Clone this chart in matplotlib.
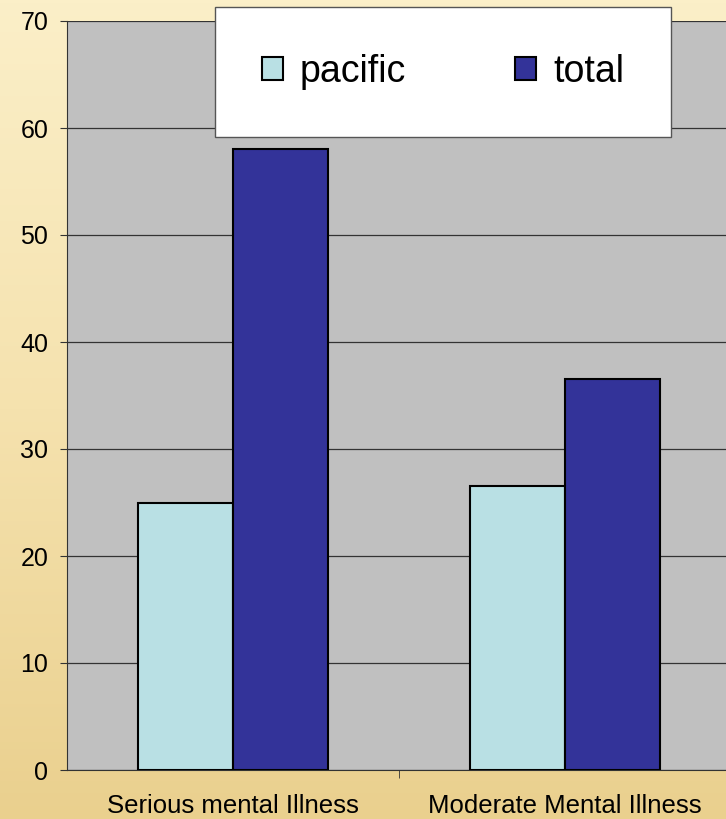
import numpy as np
import matplotlib
matplotlib.use("Agg")
import matplotlib.pyplot as plt

plt.rcParams["font.family"] = ["Liberation Sans", "DejaVu Sans"]

categories = ["Serious mental Illness", "Moderate Mental Illness"]
pacific = [25, 26.5]
total = [58, 36.5]
yticks = [0, 10, 20, 30, 40, 50, 60, 70]

W, H = 726, 819
fig = plt.figure(figsize=(W / 100, H / 100), dpi=100)

# wood-ish background: plain vertical gradient, pale on top, golden at bottom
bg = fig.add_axes([0, 0, 1, 1], zorder=-10)
grad = np.linspace(0, 1, 256)[:, None]
cmap = matplotlib.colors.LinearSegmentedColormap.from_list(
    "wood", ["#FBEFC8", "#F5E2AE", "#EAD08E"])
bg.imshow(grad, aspect="auto", cmap=cmap, extent=[0, 1, 0, 1])
bg.axis("off")

left, bottom, top = 67, 770, 21
right = 731
ax = fig.add_axes([left / W, 1 - bottom / H, (right - left) / W, (bottom - top) / H])
ax.set_facecolor("#C0C0C0")

x = np.arange(len(categories))
w = 0.285
ax.bar(x - w / 2, pacific, w, color="#B9E0E4", edgecolor="black", lw=1.5,
       label="pacific", zorder=3)
ax.bar(x + w / 2, total, w, color="#333399", edgecolor="black", lw=1.5,
       label="total", zorder=3)

ax.set_xlim(-0.5, 1.5)
ax.set_ylim(0, 70)
ax.set_yticks(yticks)
ax.yaxis.grid(True, color="#333333", lw=0.9, zorder=0)
ax.set_axisbelow(True)
ax.set_xticks(x)
ax.set_xticklabels(categories)
ax.set_xticks([0.5], minor=True)
ax.tick_params(axis="x", which="major", length=0, pad=17, labelsize=18.5)
ax.tick_params(axis="x", which="minor", length=6, color="#333333")
ax.tick_params(axis="y", length=5, color="#333333", labelsize=18, pad=8.5)
for s in ["top", "right"]:
    ax.spines[s].set_visible(False)
ax.spines["left"].set_color("#333333")
ax.spines["bottom"].set_color("#333333")

leg = fig.legend(loc="center", bbox_to_anchor=((211 + 675) / 2 / W, 1 - 72 / H),
                 ncol=2, fontsize=27, frameon=True, fancybox=False,
                 borderpad=1.25, columnspacing=2.9, handlelength=0.56,
                 handleheight=0.56, handletextpad=0.45)
leg.get_frame().set_edgecolor("#555555")
leg.get_frame().set_linewidth(1.0)
leg.get_frame().set_alpha(1)

fig.savefig("out.png", dpi=100)
